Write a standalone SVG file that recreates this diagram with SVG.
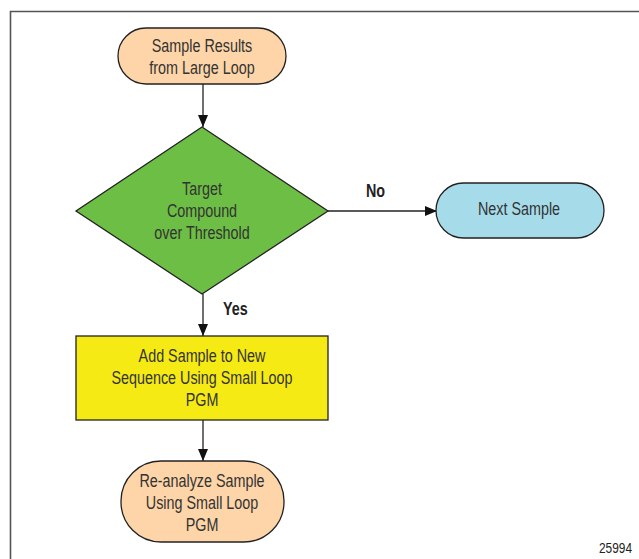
<svg xmlns="http://www.w3.org/2000/svg" width="639" height="559" viewBox="0 0 639 559">
<style>
.t{font-family:"Liberation Sans",Arial,sans-serif;font-size:17.5px;fill:#333;text-anchor:middle}
.b{font-family:"Liberation Sans",Arial,sans-serif;font-size:17.5px;font-weight:bold;fill:#222}
.n{stroke:#222;stroke-width:1.3}
.c{stroke:#222;stroke-width:1.3;fill:none;marker-end:url(#ah)}
</style>
<defs>
<marker id="ah" viewBox="0 0 12 10" refX="12" refY="5" markerWidth="12" markerHeight="10" markerUnits="userSpaceOnUse" orient="auto">
<path d="M0,0 L12,5 L0,10 Z" fill="#111"/>
</marker>
</defs>
<rect width="639" height="559" fill="#fff"/>
<path d="M10.5,559 V11.5 H639" fill="none" stroke="#555" stroke-width="1.6"/>
<g id="connectors">
<line class="c" x1="203" y1="84" x2="203" y2="127"/>
<line class="c" x1="328" y1="211" x2="437" y2="211"/>
<line class="c" x1="203" y1="294" x2="203" y2="336"/>
<line class="c" x1="203" y1="420" x2="203" y2="461"/>
<text class="b" transform="translate(366 197) scale(0.82 1)">No</text>
<text class="b" transform="translate(223 315) scale(0.82 1)">Yes</text>
</g>
<g id="start">
<rect class="n" x="118" y="28" width="168" height="56" rx="28" fill="#FDD5A8"/>
<g transform="translate(202 0) scale(0.82 1)">
<text class="t" x="0" y="52">Sample Results</text>
<text class="t" x="0" y="74">from Large Loop</text>
</g>
</g>
<g id="decision">
<polygon class="n" points="202,127 328,211 202,294 76,211" fill="#6DBE45"/>
<g transform="translate(202 0) scale(0.82 1)">
<text class="t" x="0" y="195">Target</text>
<text class="t" x="0" y="217">Compound</text>
<text class="t" x="0" y="239">over Threshold</text>
</g>
</g>
<g id="next">
<rect class="n" x="436" y="183" width="168" height="55" rx="27.5" fill="#A6DCEA"/>
<g transform="translate(519 0) scale(0.82 1)">
<text class="t" x="0" y="215">Next Sample</text>
</g>
</g>
<g id="add">
<rect class="n" x="76" y="336" width="252" height="84" fill="#F5EA14"/>
<g transform="translate(202 0) scale(0.82 1)">
<text class="t" x="0" y="362">Add Sample to New</text>
<text class="t" x="0" y="384">Sequence Using Small Loop</text>
<text class="t" x="0" y="406">PGM</text>
</g>
</g>
<g id="reanalyze">
<rect class="n" x="121" y="461" width="163" height="81" rx="40" fill="#FDD5A8"/>
<g transform="translate(202 0) scale(0.82 1)">
<text class="t" x="0" y="487">Re-analyze Sample</text>
<text class="t" x="0" y="509">Using Small Loop</text>
<text class="t" x="0" y="531">PGM</text>
</g>
</g>
<text transform="translate(632 553) scale(0.85 1)" font-family="'Liberation Sans',Arial,sans-serif" font-size="14" fill="#222" text-anchor="end">25994</text>
</svg>
